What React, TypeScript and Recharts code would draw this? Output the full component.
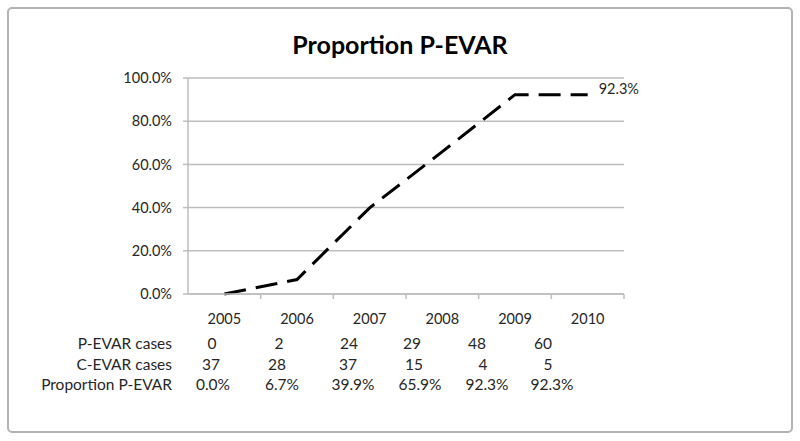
import React from 'react';
import { LineChart, Line, XAxis, YAxis, CartesianGrid, LabelList } from 'recharts';

const years = ['2005', '2006', '2007', '2008', '2009', '2010'];
const proportion = [0, 6.7, 39.9, 65.9, 92.3, 92.3];
const pEvarCases = ['0', '2', '24', '29', '48', '60'];
const cEvarCases = ['37', '28', '37', '15', '4', '5'];
const proportionLabels = ['0.0%', '6.7%', '39.9%', '65.9%', '92.3%', '92.3%'];
const yTicks = [0, 20, 40, 60, 80, 100];
const rowLabels = ['P-EVAR cases', 'C-EVAR cases', 'Proportion P-EVAR'];

const data = years.map((y, i) => ({ year: y, value: proportion[i] }));

const FONT = 'Lato, "Open Sans", sans-serif';
const TEXT = '#262626';
const GRID = '#bdbdbd';
const PLOT_W = 436;
const BAND = PLOT_W / years.length;

// table layout (text positions)
const rowY = [343, 364, 384];
const rowCols = [
  [212, 279, 349, 412, 477, 543],
  [211, 277, 348, 414, 483, 548],
  [213, 282, 353, 420, 487, 552],
];
const rowValues = [pEvarCases, cEvarCases, proportionLabels];

const XTick = (props: any) => {
  const { x, y, payload } = props;
  return (
    <g>
      <line x1={x + BAND / 2} x2={x + BAND / 2} y1={y} y2={y + 5} stroke={GRID} strokeWidth={1.5} />
      <text x={x} y={y + 24} textAnchor="middle" dominantBaseline="central" fill={TEXT} fontSize={14.5} fontFamily={FONT}>
        {payload.value}
      </text>
    </g>
  );
};

const LastLabel = (props: any) => {
  const { x, y, index } = props;
  if (index !== years.length - 1) return null;
  return (
    <text x={x + 11} y={y - 6} dominantBaseline="central" fill={TEXT} fontSize={14.5} fontFamily={FONT}>
      {proportionLabels[index]}
    </text>
  );
};

export default function App() {
  return (
    <div style={{ position: 'absolute', left: 0, top: 0, width: 800, height: 441, background: '#fff' }}>
      <svg width={800} height={441} style={{ position: 'absolute', left: 0, top: 0 }}>
        <rect x={8} y={8} width={784} height={424} rx={4} fill="#fff" stroke="#b3b3b3" strokeWidth={2} />
      </svg>
      <div style={{ position: 'absolute', left: 0, top: 0 }}>
        <LineChart width={800} height={441} data={data} margin={{ top: 78, right: 176, bottom: 117, left: 128 }}>
          <CartesianGrid vertical={false} stroke={GRID} strokeWidth={1.5} />
          <XAxis
            dataKey="year"
            scale="band"
            height={30}
            tickLine={false}
            tickSize={0}
            tickMargin={0}
            axisLine={{ stroke: GRID, strokeWidth: 1.5 }}
            tick={<XTick />}
            interval={0}
          />
          <YAxis
            width={60}
            domain={[0, 100]}
            ticks={yTicks}
            tickFormatter={(v: number) => v.toFixed(1) + '%'}
            tickSize={5}
            tickMargin={11}
            tickLine={{ stroke: GRID, strokeWidth: 1.5 }}
            axisLine={{ stroke: GRID, strokeWidth: 1.5 }}
            tick={{ fill: TEXT, fontSize: 14.5, fontFamily: FONT }}
          />
          <Line
            type="linear"
            dataKey="value"
            stroke="#000"
            strokeWidth={3}
            strokeDasharray="22 10"
            dot={false}
            isAnimationActive={false}
          >
            <LabelList dataKey="value" content={<LastLabel />} />
          </Line>
        </LineChart>
      </div>
      <svg width={800} height={441} style={{ position: 'absolute', left: 0, top: 0, pointerEvents: 'none' }}>
        <text x={400} y={44} textAnchor="middle" dominantBaseline="central" fill="#000" fontSize={25} fontWeight="bold" fontFamily={FONT}>
          Proportion P-EVAR
        </text>
        {rowLabels.map((label, r) => (
          <g key={label}>
            <text x={172} y={rowY[r]} textAnchor="end" dominantBaseline="central" fill={TEXT} fontSize={15.5} fontFamily={FONT}>
              {label}
            </text>
            {rowValues[r].map((v, c) => (
              <text key={c} x={rowCols[r][c]} y={rowY[r]} textAnchor="middle" dominantBaseline="central" fill={TEXT} fontSize={15.5} fontFamily={FONT}>
                {v}
              </text>
            ))}
          </g>
        ))}
      </svg>
    </div>
  );
}
